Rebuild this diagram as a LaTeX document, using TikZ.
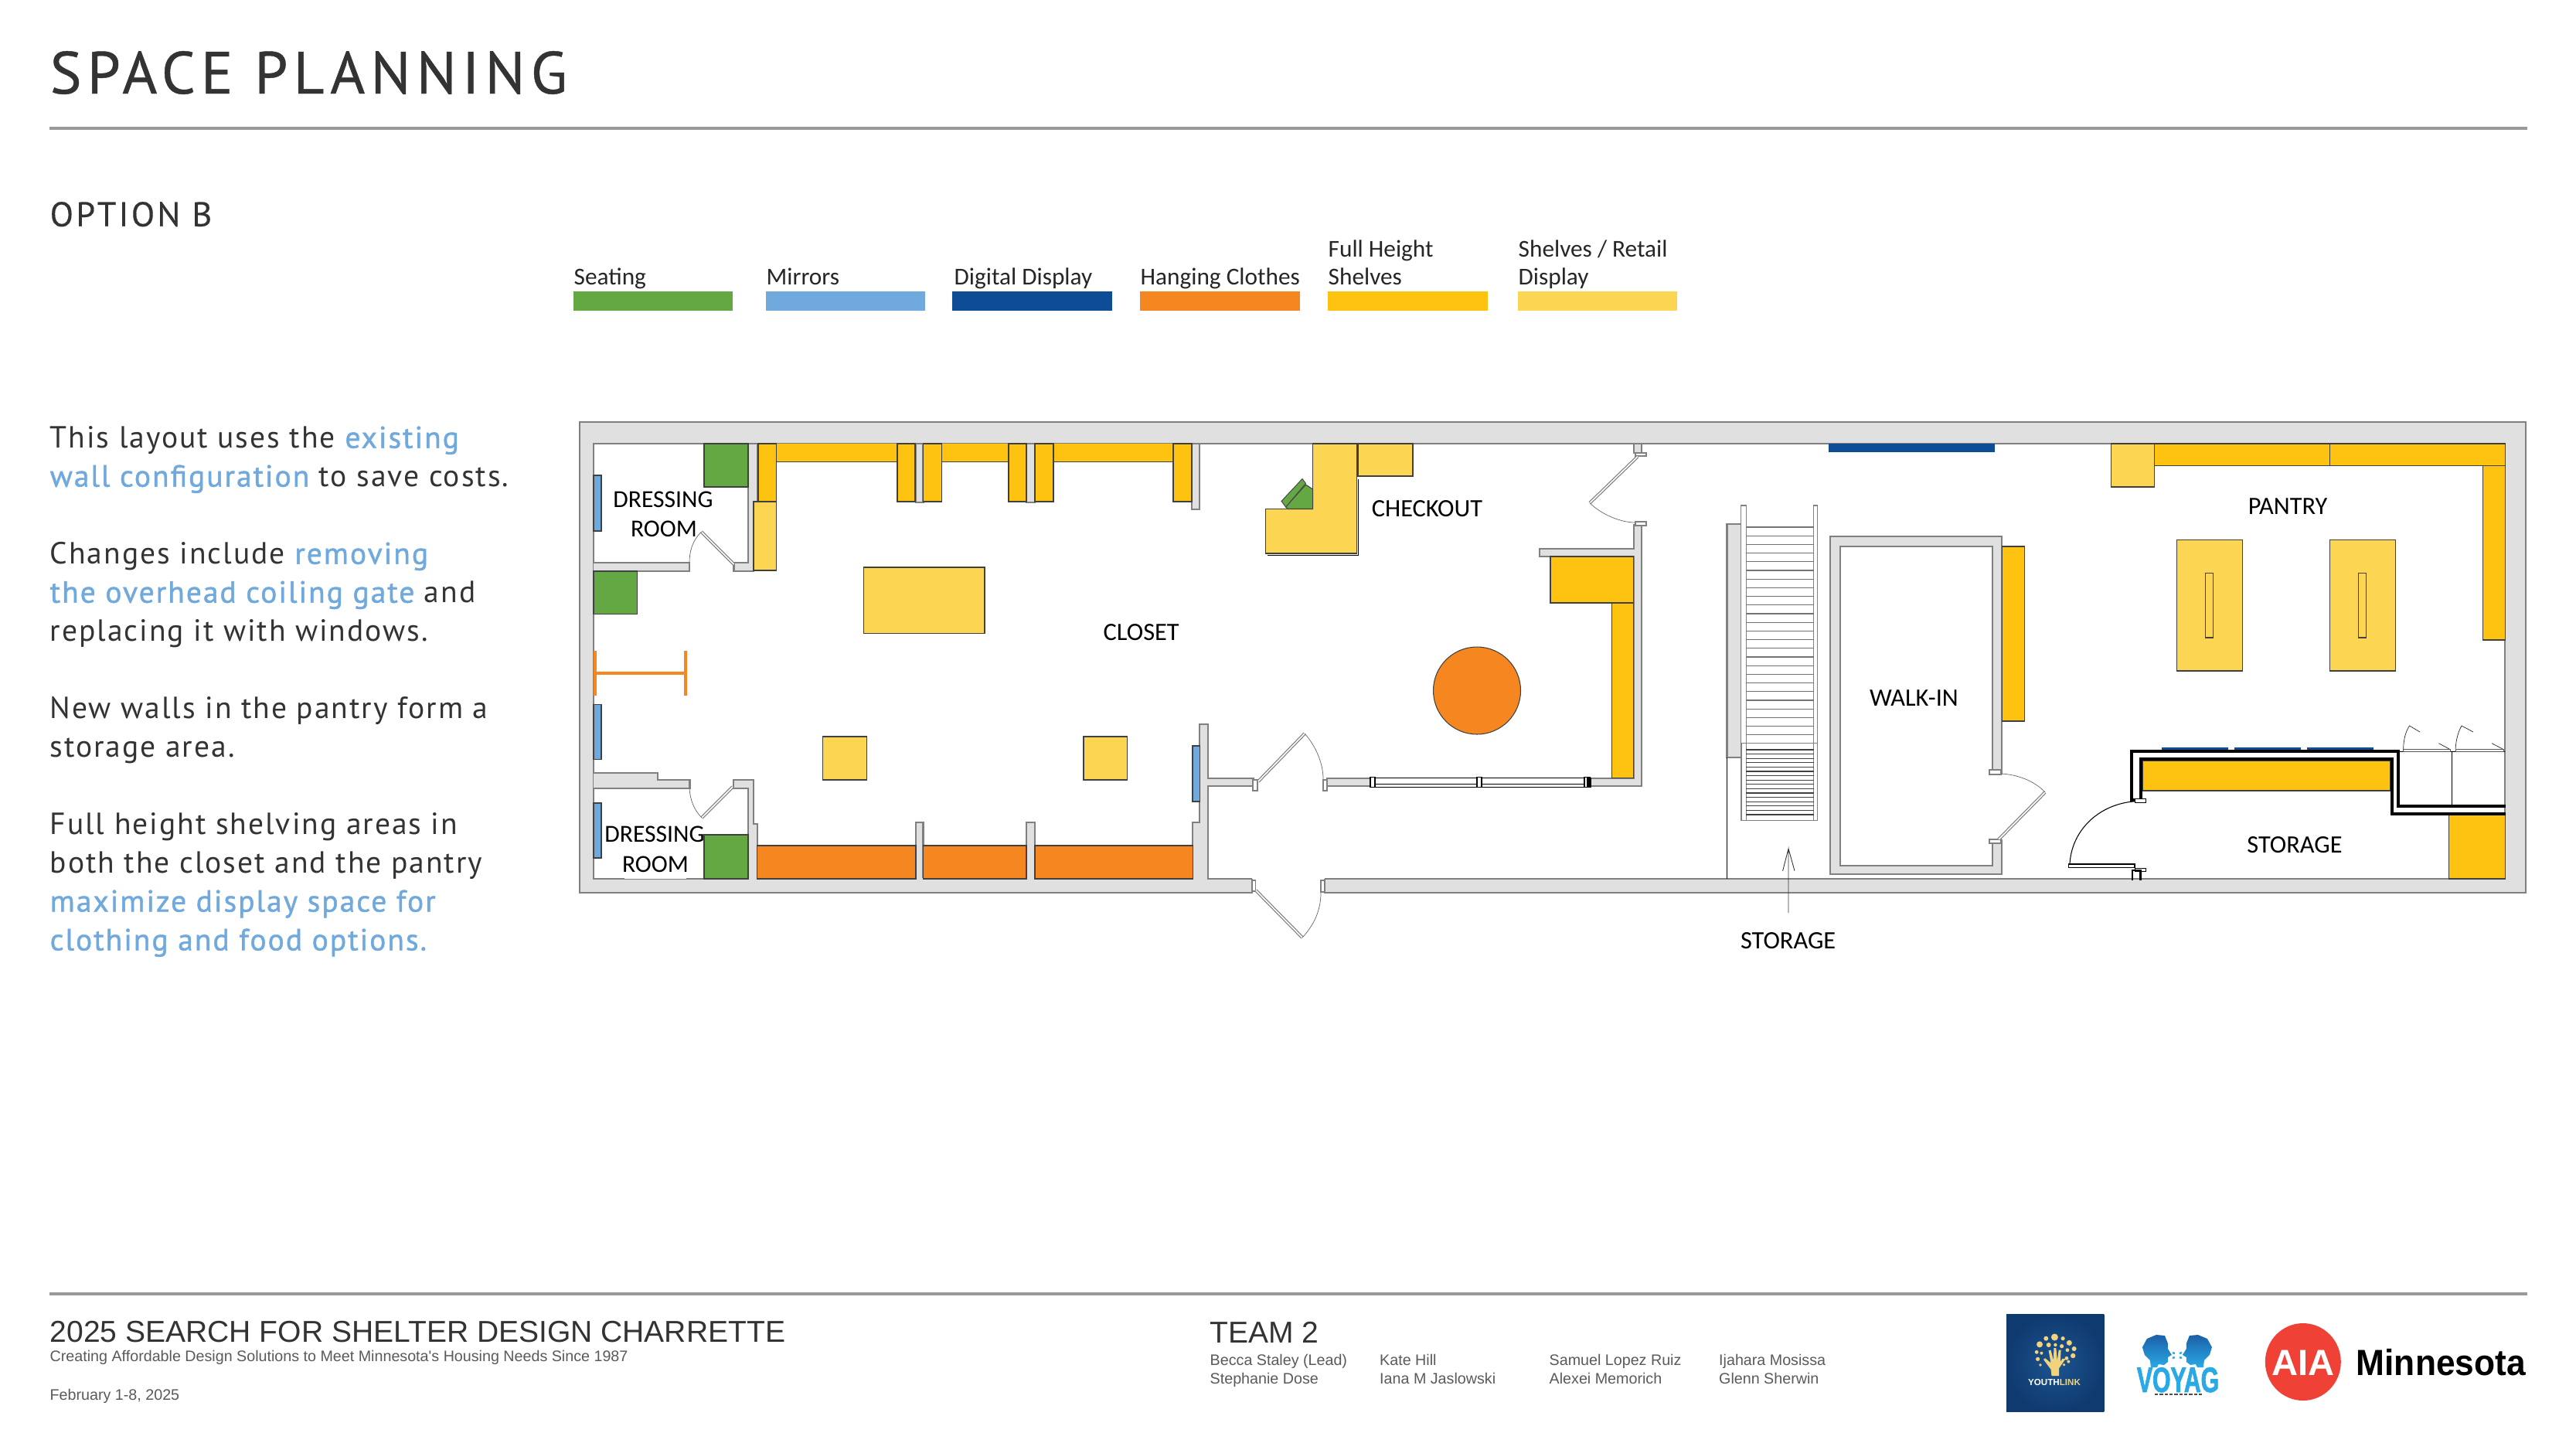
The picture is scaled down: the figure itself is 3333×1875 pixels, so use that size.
\documentclass[tikz,border=0pt]{standalone}
\usepackage{fontspec}
\setmainfont{Carlito}
\newfontfamily\dintitle[LetterSpace=9.5,FakeBold=0.6]{PT Sans}
\newfontfamily\dinoption[LetterSpace=7.5,FakeBold=0.25]{PT Sans}
\newfontfamily\dinbody[LetterSpace=5]{PT Sans}
\newfontfamily\dinblue[LetterSpace=5,FakeBold=1.1]{PT Sans}
\newfontfamily\helv{Liberation Sans}
\newfontfamily\helvb[FakeStretch=.94]{Liberation Sans Bold}
\newfontfamily\aiaf{Liberation Sans Bold}
\newfontfamily\voyf[FakeStretch=.66,FakeBold=1.5]{Liberation Sans Bold}
\definecolor{wallgray}{HTML}{E0E0E0}
\definecolor{wallline}{HTML}{808080}
\definecolor{cgreen}{HTML}{64A843}
\definecolor{cmirror}{HTML}{70A9DD}
\definecolor{cdark}{HTML}{0F4C96}
\definecolor{corange}{HTML}{F6861F}
\definecolor{cgold}{HTML}{FEC210}
\definecolor{cpale}{HTML}{FCD653}
\definecolor{ink}{HTML}{333333}
\definecolor{soft}{HTML}{5A5A5A}
\definecolor{rulec}{HTML}{999999}
\definecolor{ylblue}{HTML}{0F3A70}
\definecolor{ylmid}{HTML}{1D5590}
\definecolor{ylgold}{HTML}{F2D27A}
\definecolor{aiared}{HTML}{EF4136}
\definecolor{voyd}{HTML}{1B5FA8}
\definecolor{voyl}{HTML}{2BA9E6}
\newcommand{\bodyline}[3]{\node[anchor=base west,inner sep=0,font=\dinbody\fontsize{11.25}{13}\selectfont,text=ink] (#1) at (64,#2) {#3};}
\newcommand{\bl}[1]{{\dinblue\color{cmirror}#1}}
\tikzset{
  x=0.01cm,y=-0.01cm,
  wall/.style={fill=wallgray,draw=wallline,line width=.7pt},
  thinwall/.style={fill=white,draw=wallline,line width=.35pt},
  sh/.style={draw=black!75,line width=.3pt},
  door/.style={draw=wallline,line width=.35pt,double=white,double distance=.45pt},
  swing/.style={draw=black!60,line width=.2pt},
  blk/.style={draw=black,line width=1.15pt},
  thinblk/.style={draw=black,line width=.25pt},
  roomlbl/.style={inner sep=0,text=black,font=\fontsize{9.2}{10}\selectfont},
  dresslbl/.style={inner sep=0,text=black,font=\fontsize{9}{10}\selectfont},
  legendlbl/.style={anchor=base west,inner sep=0,text=black!85,font=\fontsize{8.9}{10}\selectfont},
  foot/.style={anchor=base west,inner sep=0,text=soft,font=\helv\fontsize{5.6}{6}\selectfont},
  foothead/.style={anchor=base west,inner sep=0,text=ink,font=\helv\fontsize{11.1}{13}\selectfont},
}
\begin{document}
\begin{tikzpicture}
\useasboundingbox (0,0) rectangle (3333,1875);
\fill[white] (0,0) rectangle (3333,1875);
% header
\node[anchor=base west,inner sep=0,text=ink,font=\dintitle\fontsize{21.9}{24}\selectfont] (title) at (64,121) {SPACE PLANNING};
\fill[rulec] (64,164) rectangle (3270,168);
\node[anchor=base west,inner sep=0,text=ink,font=\dinoption\fontsize{12.6}{14}\selectfont] (option) at (64,292.7) {OPTION B};
% legend
\fill[cgreen] (742,377) rectangle (948,401.7);
\fill[cmirror] (991,377) rectangle (1196.5,401.7);
\fill[cdark] (1232,377) rectangle (1438.5,401.7);
\fill[corange] (1475,377) rectangle (1681.5,401.7);
\fill[cgold] (1718,377) rectangle (1924.5,401.7);
\fill[cpale] (1963.7,377) rectangle (2170,401.7);
\node[legendlbl] (l1) at (742,368.5) {Seating};
\node[legendlbl] (l2) at (991,368.5) {Mirrors};
\node[legendlbl] (l3) at (1234,368.5) {Digital Display};
\node[legendlbl] (l4) at (1475,368.5) {Hanging Clothes};
\node[legendlbl] (l5a) at (1718,332.5) {Full Height};
\node[legendlbl] (l5b) at (1718,368.5) {Shelves};
\node[legendlbl] (l6a) at (1964,332.5) {Shelves / Retail};
\node[legendlbl] (l6b) at (1964,368.5) {Display};
% left text
\bodyline{t1}{579.6}{This layout uses the \bl{existing}}
\bodyline{t2}{629.6}{\bl{wall configuration} to save costs.}
\bodyline{t3}{729.7}{Changes include \bl{removing}}
\bodyline{t4}{779.7}{\bl{the overhead coiling gate} and}
\bodyline{t5}{829.7}{replacing it with windows.}
\bodyline{t6}{929.3}{New walls in the pantry form a}
\bodyline{t7}{979.8}{storage area.}
\bodyline{t8}{1079.4}{Full height shelving areas in}
\bodyline{t9}{1129.5}{both the closet and the pantry}
\bodyline{t10}{1179.5}{\bl{maximize display space for}}
\bodyline{t11}{1229.5}{\bl{clothing and food options.}}
% outer walls
\draw[wall] (750,546) rectangle (3268,1155);
\draw[fill=white,draw=wallline,line width=.7pt] (768,574) rectangle (3241,1137);
% entrance opening
\fill[white] (1620,1134) rectangle (1714,1158);
\draw[wallline,line width=.6pt] (1620,1137) -- (1620,1155.5) (1714,1137) -- (1714,1155.5);
% closet walls
\draw[wall] (768,728) -- (892,728) -- (892,739) -- (768,739);
\draw[wall] (968,574) -- (980.5,574) -- (980.5,649) -- (975,649) -- (975,739) -- (949.5,739) -- (949.5,728) -- (968,728) -- cycle;
\draw[wall] (1185,574) rectangle (1194.6,650);
\draw[wall] (1328,574) rectangle (1339,650);
\draw[wall] (1542,574) rectangle (1552,659);
\draw[wall] (768,1000) -- (851,1000) -- (851,1009) -- (892.7,1009) -- (892.7,1020) -- (768,1020);
\draw[wall] (949,1009) -- (975,1009) -- (975,1066) -- (980,1066) -- (980,1137) -- (968,1137) -- (968,1020) -- (949,1020) -- cycle;
\draw[wall] (1185,1064) rectangle (1194.6,1137);
\draw[wall] (1328,1064) rectangle (1339,1137);
\draw[wall] (1552,937) -- (1563,937) -- (1563,1007) -- (1622,1007) -- (1622,1017) -- (1563,1017) -- (1563,1137) -- (1543,1137) -- (1543,1064) -- (1552,1064) -- cycle;
\draw[wall] (1717,1007) rectangle (1773,1017);
\draw[wall] (2114,679) -- (2124,679) -- (2124,1017) -- (2058,1017) -- (2058,1007) -- (2114,1007) -- (2114,720) -- (1992,720) -- (1992,710) -- (2114,710) -- cycle;
% bottom patch to join walls
\fill[wallgray] (969,1135.5) rectangle (979,1138.5);
\fill[wallgray] (1186,1135.5) rectangle (1193.6,1138.5);
\fill[wallgray] (1329,1135.5) rectangle (1338,1138.5);
\fill[wallgray] (1544,1135.5) rectangle (1562,1138.5);
% closet fixtures
\fill[cgreen,sh] (911,574) rectangle (968,630);
\fill[cgreen,sh] (768,739) rectangle (824.4,794.4);
\fill[cgreen,sh] (911,1080) rectangle (968,1137);
\fill[cmirror,sh] (768,615) rectangle (778,687);
\fill[cmirror,sh] (768,911.4) rectangle (778,982.6);
\fill[cmirror,sh] (768,1039) rectangle (778,1110);
\fill[cmirror,sh] (1543,965) rectangle (1552.6,1037);
\fill[cpale,sh] (975,649) rectangle (1004.6,738);
\foreach \a/\b in {1004.6/1161,1218.7/1305,1363/1518}{
  \fill[cgold] (\a,574) rectangle (\b,597.5);
  \draw[sh] (\a,597.5) -- (\b,597.5);
}
\fill[cgold,sh] (981,574) rectangle (1004.6,649);
\fill[cgold,sh] (1161,574) rectangle (1184,649);
\fill[cgold,sh] (1194.6,574) rectangle (1218.7,649);
\fill[cgold,sh] (1305,574) rectangle (1328,649);
\fill[cgold,sh] (1339,574) rectangle (1363,649);
\fill[cgold,sh] (1518,574) rectangle (1542,649);
\fill[cpale,sh] (1117.7,734) rectangle (1274,819.6);
\fill[cpale,sh] (1064.3,953) rectangle (1121.7,1009);
\fill[cpale,sh] (1402,953) rectangle (1458.6,1009);
\fill[corange,sh] (979.4,1094) rectangle (1185,1137);
\fill[corange,sh] (1194.6,1094) rectangle (1328,1137);
\fill[corange,sh] (1339,1094) rectangle (1543.6,1137);
\draw[corange,line width=1.15pt] (770,870.6) -- (887,870.6) (770,842) -- (770,899.5) (887,842) -- (887,899.5);
% doors
\draw[door] (949.5,730) -- (907.6,688);
\draw[swing] (907.6,688) .. controls (895,700) and (892,715) .. (892,728);
\draw[door] (948,1018) -- (908,1058);
\draw[swing] (892,1020) .. controls (893,1035) and (898,1048) .. (908,1058);
\draw[thinwall] (1621,1009) rectangle (1627,1023);
\draw[door] (1628,1011) -- (1688,949);
\draw[swing] (1688,949) .. controls (1703,966) and (1712,988) .. (1712,1008);
\draw[thinwall] (1712,1009) rectangle (1717,1023);
\draw[thinwall] (1620,1139) rectangle (1624.5,1153);
\draw[door] (1625,1152) -- (1685,1213);
\draw[swing] (1709,1155) .. controls (1709,1178) and (1700,1197) .. (1685,1213);
\draw[thinwall] (1709,1139) rectangle (1714,1154);
\draw[wall,line width=.5pt] (2114,574) rectangle (2124,586);
\draw[thinwall] (2116,586) rectangle (2130,590);
\draw[door] (2119,590.6) -- (2057,650.7);
\draw[swing] (2057,650.7) .. controls (2070,664) and (2095,676) .. (2116,676);
\draw[thinwall] (2116,675) rectangle (2130,680);
% window
\draw[fill=white,draw=black,line width=.2pt] (1773,1006) rectangle (2058,1018);
\draw[draw=black,line width=.2pt] (1773,1014) -- (2058,1014);
\draw[fill=white,draw=black,line width=.5pt] (1773,1005.5) rectangle (1779,1018.5);
\draw[fill=white,draw=black,line width=.5pt] (1911,1005.5) rectangle (1917,1018.5);
\draw[fill=white,draw=black,line width=.5pt] (2050,1005.5) rectangle (2054,1018.5);
\fill[black] (2054,1004.5) rectangle (2058,1019);
% checkout
\draw[thinblk] (1640,718) -- (1757,718) -- (1757,620);
\fill[cpale,sh] (1698.6,574) -- (1755.4,574) -- (1755.4,716) -- (1637.8,716) -- (1637.8,658.5) -- (1698.6,658.5) -- cycle;
\fill[cpale,sh] (1757,574) rectangle (1828,616);
\fill[cgreen,sh] (1663.6,656) -- (1689.4,627) -- (1698.6,633) -- (1698.6,658.5) -- (1666.5,658.5) -- cycle;
\fill[cgreen,draw=black!70,line width=.3pt] (1658,648.4) -- (1685,619.5) -- (1689.4,625.5) -- (1663.6,656) -- cycle;
% circle and gold by wall
\fill[corange,sh] (1911,893.5) circle (56.5);
\fill[cgold,sh] (2006,720) rectangle (2113.6,780);
\fill[cgold,sh] (2085.5,780) rectangle (2113.6,1006.5);
% stairs
\draw[wall] (2234.7,678) rectangle (2253,980);
\draw[thinblk] (2234.7,980) -- (2234.7,1137);
\draw[draw=wallline,fill=white,line width=.3pt] (2252.6,654) rectangle (2259,961.5);
\draw[draw=wallline,fill=white,line width=.3pt] (2346.6,654) rectangle (2351.5,961.5);
\foreach \i in {0,...,24}{\draw[draw=black!55,line width=.3pt] (2259,{682+11.2*\i}) -- (2346.6,{682+11.2*\i});}
\draw[draw=wallline,fill=white,line width=.5pt] (2252.6,961.5) rectangle (2351.5,1061.5);
\draw[wallline,line width=.3pt] (2259,961.5) -- (2259,1061.5) (2346.6,961.5) -- (2346.6,1061.5);
\foreach \i in {0,...,15}{\draw[draw=black!75,line width=.3pt] (2259,{970+5.6*\i}) -- (2346.6,{970+5.6*\i});}
% walk-in
\path[wall,even odd rule] (2368,694) rectangle (2590,1131) (2381,707) rectangle (2578,1120);
\fill[white] (2576.5,1002) rectangle (2592,1086);
\draw[thinwall] (2574,996) rectangle (2589,1002);
\draw[thinwall] (2574,1086) rectangle (2589,1091);
\draw[door] (2586,1086) -- (2646,1025);
\draw[swing] (2589,1001) .. controls (2610,1002) and (2632,1010) .. (2646,1025);
\fill[cgold,sh] (2590,707) rectangle (2619,933);
\fill[cdark] (2366,574) rectangle (2581,585);
% pantry
\fill[cpale,sh] (2731,574) rectangle (2787,630);
\fill[cgold,sh] (2787,574) rectangle (3014,602.5);
\fill[cgold,sh] (3014,574) rectangle (3241,602.5);
\fill[cgold,sh] (3212,602.5) rectangle (3241,828);
\fill[cpale,sh] (2816.6,698.5) rectangle (2901.5,868);
\fill[cpale,sh] (3014,698.5) rectangle (3099,868);
\draw[sh] (2853,741.6) rectangle (2863.6,825);
\draw[sh] (3051,741.6) rectangle (3061.5,825);
% new storage
\fill[cgold,sh] (2772,984) rectangle (3092.5,1023);
\fill[cgold,sh] (3168,1054.7) rectangle (3241,1137);
\fill[cdark] (2797,967) rectangle (2882.6,970.6);
\fill[cdark] (2891,967) rectangle (2977,970.6);
\fill[cdark] (2985,967) rectangle (3071,970.6);
\draw[thinblk] (3103,972) -- (3241,972) (3172.4,972) -- (3172.4,1042);
\draw[draw=black!65,fill=white,line width=.25pt] (3109.6,969) rectangle (3170,972);
\draw[draw=black!65,fill=white,line width=.25pt] (3177,969) rectangle (3239,972);
\draw[swing,draw=black!85] (3109.6,969) .. controls (3110,955) and (3113,946) .. (3117.5,939) -- (3131,947);
\draw[swing,draw=black!85] (3177,969) .. controls (3178,955) and (3181,946) .. (3185,939) -- (3200,947);
\draw[swing,draw=black!85] (3155.4,961.7) -- (3169,969);
\draw[swing,draw=black!85] (3224,961.7) -- (3238,969);
\draw[blk] (2758,1036) -- (2758,972) -- (3103,972) -- (3103,1042.7) -- (3242,1042.7);
\draw[blk] (2769.5,1036) -- (2769.5,981.7) -- (3095,981.7) -- (3095,1052.7) -- (3242,1052.7);
\draw[blk] (2756,1035) -- (2771,1035);
\draw[fill=white,thinblk] (2762,1033) rectangle (2776,1038);
\draw[fill=white,draw=black,line width=.35pt] (2676.6,1118) rectangle (2762,1122.7);
\draw[fill=white,thinblk] (2762,1123) rectangle (2776,1127);
\draw[draw=black,line width=.8pt] (2759,1139) -- (2759,1126) -- (2769.5,1126) -- (2769.5,1139);
\draw[draw=black,line width=.3pt] (2763,1036.7) .. controls (2715,1040) and (2680,1075) .. (2678,1118);
% white patch beneath lower dressing room label
\draw[white,line width=.45pt] (808,1136.5) -- (888,1136.5);
% room labels
\node[dresslbl] (dr1a) at (858,646) {DRESSING};
\node[dresslbl] (dr1b) at (859,684) {ROOM};
\node[dresslbl] (dr2a) at (847,1079) {DRESSING};
\node[dresslbl] (dr2b) at (848,1118) {ROOM};
\node[roomlbl] (closet) at (1476.7,818) {CLOSET};
\node[roomlbl] (checkout) at (1846.5,658) {CHECKOUT};
\node[roomlbl] (walkin) at (2476.4,903) {WALK-IN};
\node[roomlbl] (pantry) at (2960,655) {PANTRY};
\node[roomlbl] (storageb) at (2969,1093.5) {STORAGE};
\node[roomlbl] (storagea) at (2313.6,1217) {STORAGE};
\coordinate (stairtip) at (2314,1098);
\coordinate (arrowfoot) at (2314,1181);
\draw[draw=black!80,line width=.25pt] (arrowfoot) -- (stairtip) -- (2306.6,1126.7) (stairtip) -- (2322,1126.7);
% footer
\fill[rulec] (64,1672) rectangle (3270,1676);
\node[foothead] (charrette) at (64,1736.7) {2025 SEARCH FOR SHELTER DESIGN CHARRETTE};
\node[foot] (subtitle) at (64,1761.7) {Creating Affordable Design Solutions to Meet Minnesota's Housing Needs Since 1987};
\node[foot] (date) at (64,1811.7) {February 1-8, 2025};
\node[foothead] (team) at (1565,1737) {TEAM 2};
\node[foot] (n1) at (1565,1766) {Becca Staley (Lead)};
\node[foot] (n2) at (1565,1790) {Stephanie Dose};
\node[foot] (n3) at (1784.5,1766) {Kate Hill};
\node[foot] (n4) at (1784.5,1790) {Iana M Jaslowski};
\node[foot] (n5) at (2004,1766) {Samuel Lopez Ruiz};
\node[foot] (n6) at (2004,1790) {Alexei Memorich};
\node[foot] (n7) at (2223.5,1766) {Ijahara Mosissa};
\node[foot] (n8) at (2223.5,1790) {Glenn Sherwin};
% YouthLink logo
\shade[inner color=ylmid,outer color=ylblue] (2596,1700) rectangle (2722.4,1826.7);
\foreach \a/\b/\r in {203/150/4.5,180/155/3,225/155/2.6,163/178/4,187/180/3,205/180/2.2,222/185/2.6,242/172/3.5,155/208/2.4,168/212/2,255/195/3,237/200/2.4,252/222/3.2,158/235/2.6,235/232/2.4,240/245/2,228/257/1.8,165/258/1.8}{\fill[ylgold] ({2560+.4847*\a},{1680+\b/3}) circle (\r);}
\fill[ylgold] (2654.5,1780) -- (2664.2,1780) -- (2664.2,1770) -- (2672.4,1758.3) -- (2668.6,1757.7) -- (2665.7,1761.7) -- (2666.6,1746.7) -- (2663.7,1746.7) -- (2661.8,1760) -- (2660.3,1744) -- (2657.4,1744) -- (2656.9,1760) -- (2653.5,1746.7) -- (2650.6,1747.3) -- (2653.5,1763.3) -- (2646.3,1757.3) -- (2643.9,1758.7) -- (2653.5,1771.7) -- cycle;
\node[inner sep=0,font=\aiaf\fontsize{3.3}{4}\selectfont] (youthlink) at (2658,1788) {\textcolor{white}{YOUTH}\textcolor{ylgold}{LINK}};
% VOYAG logo
\foreach \m in {1,-1}{
  \begin{scope}[shift={({2560+.4847*530},0)},xscale=\m]
  \shade[top color=voyd,bottom color=voyl] (-45,1743) -- (-39,1732) -- (-27,1727) -- (-16,1728) -- (-12,1738) -- (-12,1745) -- (-7,1753) -- (-12,1756) -- (-12,1762) -- (-17,1766) -- (-24,1765) -- (-26,1769) -- (-34,1769) -- (-35,1760) -- (-42,1753) -- cycle;
  \draw[voyl,line width=.7pt] (-6,1750) -- (-3,1751) (-6,1757) -- (-3,1756);
  \end{scope}}
\node[anchor=base,inner sep=0,text=voyl,font=\voyf\fontsize{13}{15}\selectfont] (voyag) at (2818,1801) {VOYAG};
\draw[draw=black!70,line width=.5pt,dash pattern=on 1.2pt off .6pt] (2788,1804) -- (2850,1804);
% AIA logo
\fill[aiared] (2979.8,1762) ellipse (49 and 50);
\node[anchor=base,inner sep=0,text=white,font=\aiaf\fontsize{13.4}{15}\selectfont] (aia) at (2980,1779) {AIA};
\node[anchor=base west,inner sep=0,text=black,font=\helvb\fontsize{13.4}{15}\selectfont] (mn) at (3048,1779) {Minnesota};
\end{tikzpicture}
\end{document}
